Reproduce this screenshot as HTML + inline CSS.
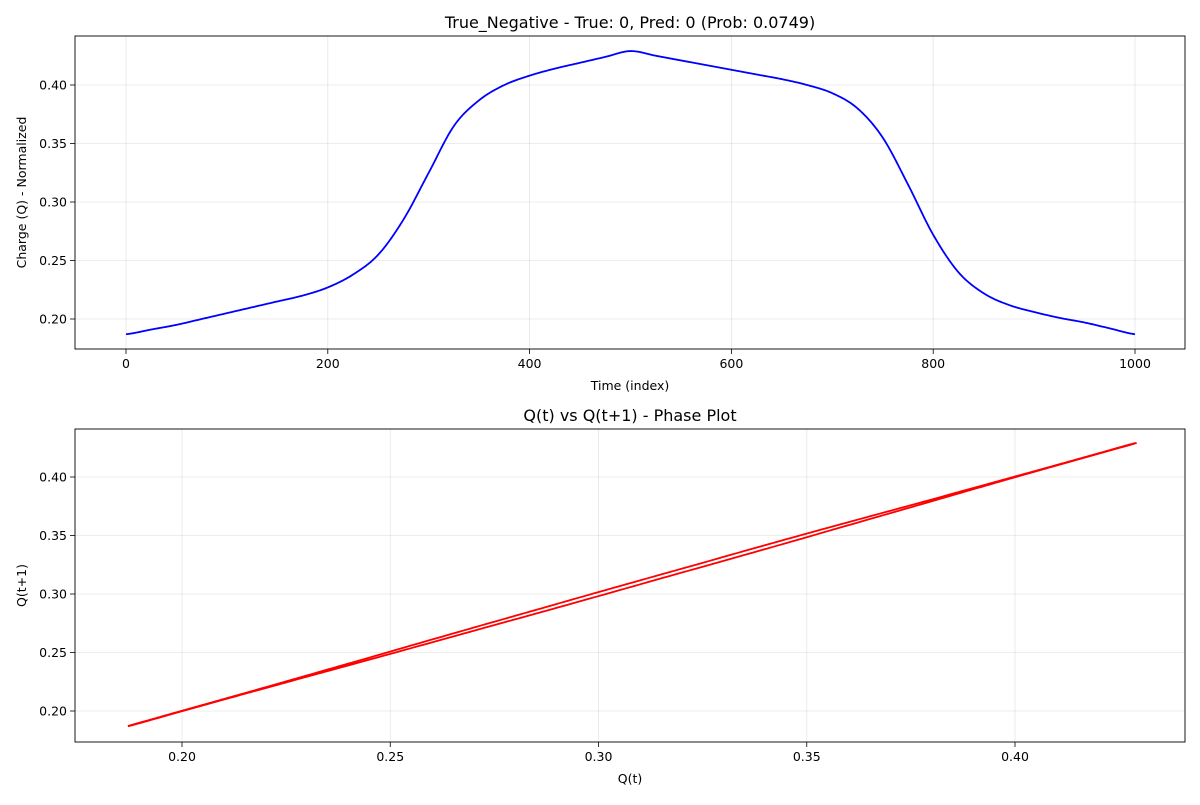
<!DOCTYPE html>
<html><head><meta charset="utf-8">
<style>
body{margin:0;background:#fff;font-family:"Liberation Sans","DejaVu Sans",sans-serif;}
svg text{font-family:"DejaVu Sans","Liberation Sans",sans-serif;fill:#000;}
</style></head>
<body>
<svg id="chart" width="1200" height="800" xmlns="http://www.w3.org/2000/svg"></svg>
<script>
const timeIndex=[0,25,50,75,100,125,150,175,200,225,250,275,300,325,350,375,400,425,450,475,500,525,550,575,600,625,650,675,700,725,750,775,800,825,850,875,900,925,950,975,1000];
const chargeValues=[.187,.191,.195,.200,.205,.210,.215,.220,.227,.238,.255,.285,.325,.365,.387,.400,.408,.414,.419,.424,.429,.425,.421,.417,.413,.409,.405,.400,.393,.380,.355,.315,.272,.240,.222,.212,.206,.201,.197,.192,.187];
const topXTicks=[0,200,400,600,800,1000];
const topYTicks=[0.20,0.25,0.30,0.35,0.40];
const botXTicks=[0.20,0.25,0.30,0.35,0.40];
const botYTicks=[0.20,0.25,0.30,0.35,0.40];

const svg=document.getElementById('chart');
const NS='http://www.w3.org/2000/svg';
function mk(tag,attrs,parent){const e=document.createElementNS(NS,tag);for(const k in attrs)e.setAttribute(k,attrs[k]);(parent||svg).appendChild(e);return e;}

const tx=v=>126+v*1.009;
const ty=v=>319-(v-0.20)*1170;
const bx=v=>182+(v-0.20)*4165;
const by=v=>711-(v-0.20)*1170;

function axes(name,x0,y0,x1,y1,xt,yt,fx,fy,fmtX,fmtY,title,xl,yl){
  const g=mk('g',{});
  
  
  xt.forEach(v=>{const x=fx(v);
    mk('line',{x1:x,x2:x,y1:y0,y2:y1,stroke:'#000','stroke-opacity':0.1,'stroke-width':0.8},g);
    mk('line',{x1:x,x2:x,y1:y1,y2:y1+5,stroke:'#000','stroke-width':0.8},g);
    const t=mk('text',{x:x,y:y1+19,'text-anchor':'middle','font-size':12.5},g);t.textContent=fmtX(v);
    });
  yt.forEach(v=>{const y=fy(v);
    mk('line',{x1:x0,x2:x1,y1:y,y2:y,stroke:'#000','stroke-opacity':0.1,'stroke-width':0.8},g);
    mk('line',{x1:x0-5,x2:x0,y1:y,y2:y,stroke:'#000','stroke-width':0.8},g);
    const t=mk('text',{x:x0-8,y:y+4.5,'text-anchor':'end','font-size':12.5},g);t.textContent=fmtY(v);
    });
  mk('rect',{x:x0,y:y0,width:x1-x0,height:y1-y0,fill:'none',stroke:'#000','stroke-width':0.9},g);
  const tt=mk('text',{x:(x0+x1)/2,y:y0-8,'text-anchor':'middle','font-size':16},g);tt.textContent=title;
  
  const xa=mk('text',{x:(x0+x1)/2,y:y1+41,'text-anchor':'middle','font-size':12.5},g);xa.textContent=xl;
  
  const yc=(y0+y1)/2;
  const ya=mk('text',{x:26,y:yc,'text-anchor':'middle','font-size':12.5,transform:`rotate(-90 26 ${yc})`},g);ya.textContent=yl;
  
}
axes('top-chart',75,36,1185,349,topXTicks,topYTicks,tx,ty,v=>String(v),v=>v.toFixed(2),
 'True_Negative - True: 0, Pred: 0 (Prob: 0.0749)','Time (index)','Charge (Q) - Normalized');
axes('phase-chart',75,429,1185,742,botXTicks,botYTicks,bx,by,v=>v.toFixed(2),v=>v.toFixed(2),
 'Q(t) vs Q(t+1) - Phase Plot','Q(t)','Q(t+1)');

// Catmull-Rom interpolation to unit steps
const n=timeIndex.length;
const dense=[];
for(let t=0;t<=timeIndex[n-1];t++){
  let k=0;while(k<n-2&&timeIndex[k+1]<t)k++;
  const f=(t-timeIndex[k])/(timeIndex[k+1]-timeIndex[k]);
  const p0=chargeValues[Math.max(k-1,0)],p1=chargeValues[k],p2=chargeValues[k+1],p3=chargeValues[Math.min(k+2,n-1)];
  const f2=f*f,f3=f2*f;
  dense.push(0.5*((2*p1)+(-p0+p2)*f+(2*p0-5*p1+4*p2-p3)*f2+(-p0+3*p1-3*p2+p3)*f3));
}
const p1=mk('polyline',{points:dense.map((q,t)=>tx(t)+','+ty(q)).join(' '),fill:'none',stroke:'#0000ff','stroke-width':1.8});



const pts=[];for(let i=0;i<dense.length-1;i++)pts.push(bx(dense[i])+','+by(dense[i+1]));
const p2=mk('polyline',{points:pts.join(' '),fill:'none',stroke:'#ff0000','stroke-width':1.8});


</script>
</body></html>
